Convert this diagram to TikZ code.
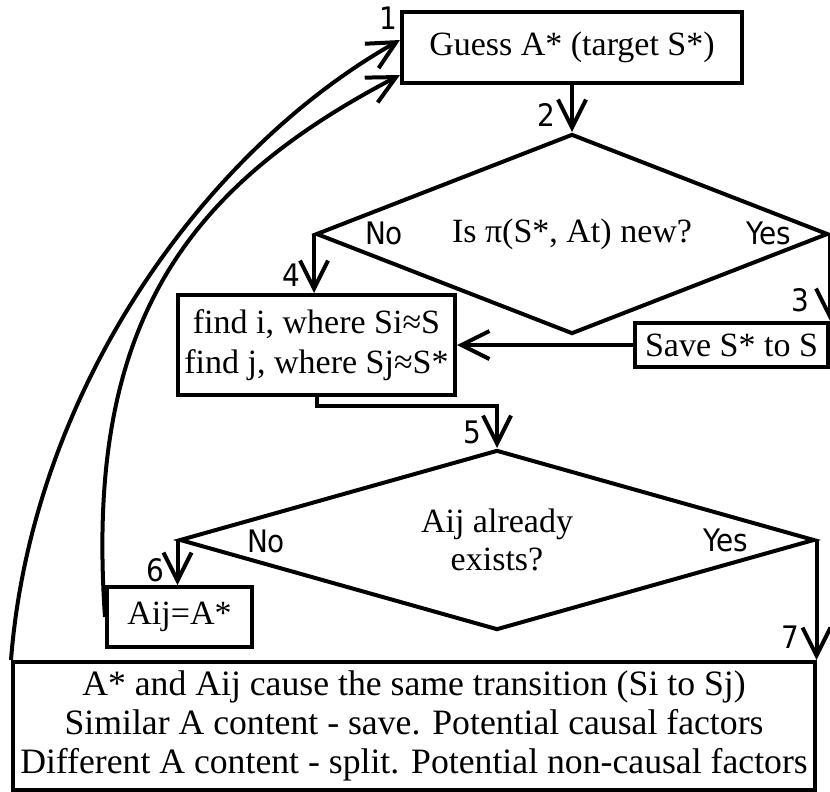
\documentclass[tikz,border=0pt]{standalone}
\usepackage{fontspec}
\setmainfont{Liberation Serif}
\newfontfamily\tagfont{DejaVu Sans Condensed}
\usetikzlibrary{arrows.meta,shapes.geometric}

\begin{document}
\begin{tikzpicture}[x=1pt, y=-1pt, line width=4pt,
  every node/.style={font=\fontsize{34}{40}\selectfont},
  stepbox/.style={draw, rectangle, inner sep=0pt, align=center},
  choice/.style={draw, diamond, inner sep=0pt, aspect=2.5, align=center},
  tag/.style={font=\tagfont\fontsize{31}{31}\selectfont, inner sep=0pt},
  flow/.style={-{Straight Barb[length=28pt,width=28pt]}}]
  \useasboundingbox (0,0) rectangle (830,792);
  % boxes and decisions
  \node[stepbox, minimum width=340pt, minimum height=71pt] (guess) at (572,47.5) {Guess A* (target S*)};
  \node[choice, minimum width=512pt, minimum height=200pt] (isnew) at (572,234) {Is π(S*, At) new?};
  \node[stepbox, minimum width=277pt, minimum height=100pt] (find) at (316.5,345) {find i, where Si≈S\\find j, where Sj≈S*};
  \node[stepbox, minimum width=193pt, minimum height=44pt] (save) at (731.5,345) {Save S* to S};
  \node[choice, minimum width=635pt, minimum height=180pt, font=\fontsize{34}{38}\selectfont] (exists) at (497,540) {Aij already\\exists?};
  \node[stepbox, minimum width=145pt, minimum height=60pt] (assign) at (179.5,617) {Aij=A*};
  \node[stepbox, minimum width=802pt, minimum height=128pt, font=\fontsize{35.7}{39}\selectfont] (compare) at (414,726)
    {A* and Aij cause the same transition (Si to Sj)\\Similar A content - save. Potential causal factors\\Different A content - split. Potential non-causal factors};
  % answers
  \node[tag] (no1) at (384,233) {No};
  \node[tag] (yes1) at (769,233) {Yes};
  \node[tag] (no2) at (266,541) {No};
  \node[tag] (yes2) at (726,540) {Yes};
  % step numbers
  \node[tag] (n1) at (388,18) {1};
  \node[tag] (n2) at (546,115) {2};
  \node[tag] (n3) at (800,300) {3};
  \node[tag] (n4) at (291,275) {4};
  \node[tag] (n5) at (472,432) {5};
  \node[tag] (n6) at (155,570) {6};
  \node[tag] (n7) at (790,637) {7};
  % connectors
  \draw[flow] (guess.south) -- (isnew.north);
  \draw[flow] (isnew.west) -- (isnew.west |- find.north);
  \draw[flow] (isnew.east) -- (isnew.east |- save.north);
  \draw[flow] (save.west) -- (find.east);
  \draw[flow] (find.south) -- ++(0,9) -| (exists.north);
  \draw[flow] (exists.west) -- (exists.west |- assign.north);
  \draw[flow] (exists.east) -- (exists.east |- compare.north);
  \draw[flow] (compare.north west) .. controls (32,390) and (205,150) .. ([yshift=7.5pt]guess.west);
  \draw[flow] (assign.west) .. controls (85,330) and (180,190) .. ([yshift=-27.5pt]guess.west);
\end{tikzpicture}
\end{document}
